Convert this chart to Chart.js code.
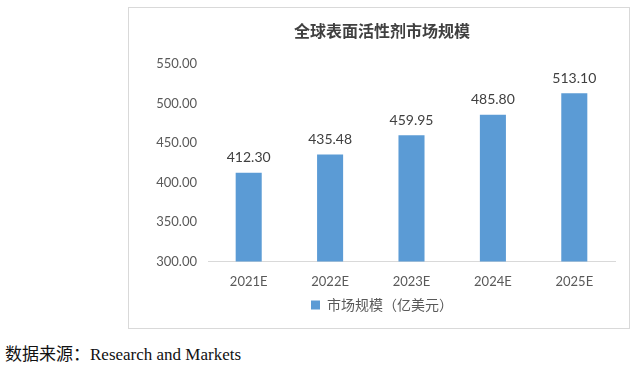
<!DOCTYPE html>
<html>
<head>
<meta charset="utf-8">
<script src="https://cdn.jsdelivr.net/npm/chart.js@4"></script>
<style>
  body { margin: 0; background: #fff; width: 636px; height: 368px; position: relative; overflow: hidden; }
  #box { position: absolute; left: 128px; top: 7px; width: 500px; height: 320px; border: 1px solid #d9d9d9; }
  #source { position: absolute; left: 5px; top: 340px; font: 17px "Liberation Serif", "Noto Sans CJK SC", serif; color: #111; }
</style>
</head>
<body>
<div id="box"><canvas id="marketChart" width="500" height="320"></canvas></div>
<div id="source">数据来源：Research and Markets</div>
<script>
const categories = ['2021E', '2022E', '2023E', '2024E', '2025E'];
const marketSize = [412.30, 435.48, 459.95, 485.80, 513.10];
const yTicks = [300, 350, 400, 450, 500, 550];
const seriesName = '市场规模（亿美元）';

// value labels above each bar
const barLabels = {
    id: 'barLabels',
    afterDatasetsDraw(chart) {
        const ctx = chart.ctx;
        const meta = chart.getDatasetMeta(0);
        ctx.save();
        ctx.font = '14px Lato, "Liberation Sans", sans-serif';
        ctx.fillStyle = '#404040';
        ctx.textAlign = 'center';
        ctx.textBaseline = 'bottom';
        meta.data.forEach((bar, i) => {
            ctx.fillText(marketSize[i].toFixed(2), bar.x, bar.y - 8);
        });
        ctx.restore();
    }
};

const ctx = document.getElementById('marketChart').getContext('2d');
new Chart(ctx, {
    type: 'bar',
    data: {
        labels: categories,
        datasets: [{
            label: seriesName,
            data: marketSize,
            backgroundColor: '#5b9bd5',
            barPercentage: 0.32,
            categoryPercentage: 1
        }]
    },
    options: {
        responsive: false,
        animation: false,
        layout: { padding: { left: 20, right: 14, top: 0, bottom: 6 } },
        plugins: {
            title: {
                display: true,
                text: '全球表面活性剂市场规模',
                color: '#404040',
                font: { size: 16, weight: 'bold', family: '"Noto Sans CJK SC", sans-serif' },
                padding: { top: 13, bottom: 24 }
            },
            legend: {
                position: 'bottom',
                labels: {
                    color: '#595959',
                    boxWidth: 9,
                    boxHeight: 9,
                    padding: 3,
                    font: { size: 14, family: '"Noto Sans CJK SC", sans-serif' }
                }
            },
            tooltip: { enabled: false }
        },
        scales: {
            x: {
                grid: { display: false },
                border: { display: true, color: '#d9d9d9' },
                ticks: { color: '#595959', padding: 5, font: { size: 13, family: 'Lato, sans-serif' } }
            },
            y: {
                min: yTicks[0],
                max: yTicks[yTicks.length - 1],
                grid: { display: false, drawTicks: false },
                border: { display: false },
                afterBuildTicks(axis) {
                    axis.ticks = yTicks.map(v => ({ value: v }));
                },
                afterFit(axis) { axis.width = 59; },
                ticks: {
                    color: '#595959',
                    padding: 11,
                    font: { size: 13, family: 'Lato, sans-serif' },
                    callback: v => Number(v).toFixed(2)
                }
            }
        }
    },
    plugins: [barLabels]
});
</script>
</body>
</html>
